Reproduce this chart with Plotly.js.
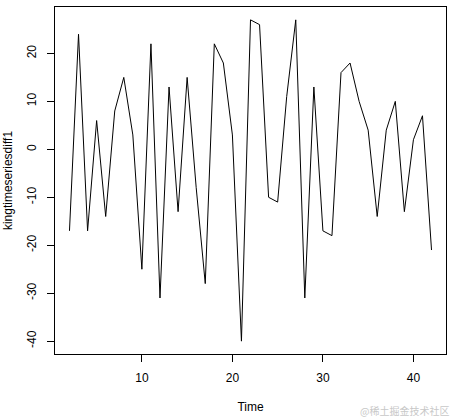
<!DOCTYPE html>
<html><head><meta charset="utf-8">
<script src="https://cdn.plot.ly/plotly-3.0.1.min.js"></script>
<style>html,body{margin:0;padding:0;background:#fff}#chart{width:452px;height:418px}</style>
</head><body><div id="chart"></div>
<script>
const timeIndex = [2,3,4,5,6,7,8,9,10,11,12,13,14,15,16,17,18,19,20,21,22,23,24,25,26,27,28,29,30,31,32,33,34,35,36,37,38,39,40,41,42];
const diffValues = [-17,24,-17,6,-14,8,15,3,-25,22,-31,13,-13,15,-8,-28,22,18,3,-40,27,26,-10,-11,11,27,-31,13,-17,-18,16,18,10,4,-14,4,10,-13,2,7,-21];
const xTicks = [10,20,30,40];
const xTickText = ['10','20','30','40'];
const yTicks = [-40,-30,-20,-10,0,10,20];
const yTickText = ['-40','-30','-20','-10','0','10','20'];

const font = {family:'Liberation Sans, Arial, sans-serif', size:12, color:'#000'};
Plotly.newPlot('chart',[{
  x: timeIndex, y: diffValues, type:'scatter', mode:'lines',
  line:{color:'#000', width:1}, hoverinfo:'none'
}],{
  width:452, height:418,
  margin:{l:55, r:6.4, t:7, b:64, pad:0},
  paper_bgcolor:'#fff', plot_bgcolor:'#fff',
  showlegend:false, font:font,
  xaxis:{range:[0.4,43.6], tickvals:xTicks, ticktext:xTickText, ticks:'outside', ticklen:7, tickcolor:'#000',
    showline:true, mirror:true, linecolor:'#000', linewidth:1, showgrid:false, zeroline:false,
    ticklabelstandoff:6, tickfont:font,
    title:{text:'Time', font:font, standoff:18}},
  yaxis:{range:[-42.68,29.68], tickvals:yTicks, ticktext:yTickText, ticks:'outside', ticklen:7, tickcolor:'#000',
    showline:true, mirror:true, linecolor:'#000', linewidth:1, showgrid:false, zeroline:false,
    tickangle:-90, ticklabelstandoff:6, tickfont:font,
    title:{text:'kingtimeseriesdiff1', font:font, standoff:10}},
  annotations:[{text:'@稀土掘金技术社区', xref:'paper', yref:'paper', x:1, y:0, xanchor:'right', yanchor:'top',
    yshift:-47, xshift:5, showarrow:false, font:{family:'Noto Sans CJK SC', size:10, color:'#c8c8c8'}}]
},{staticPlot:true});
</script></body></html>
